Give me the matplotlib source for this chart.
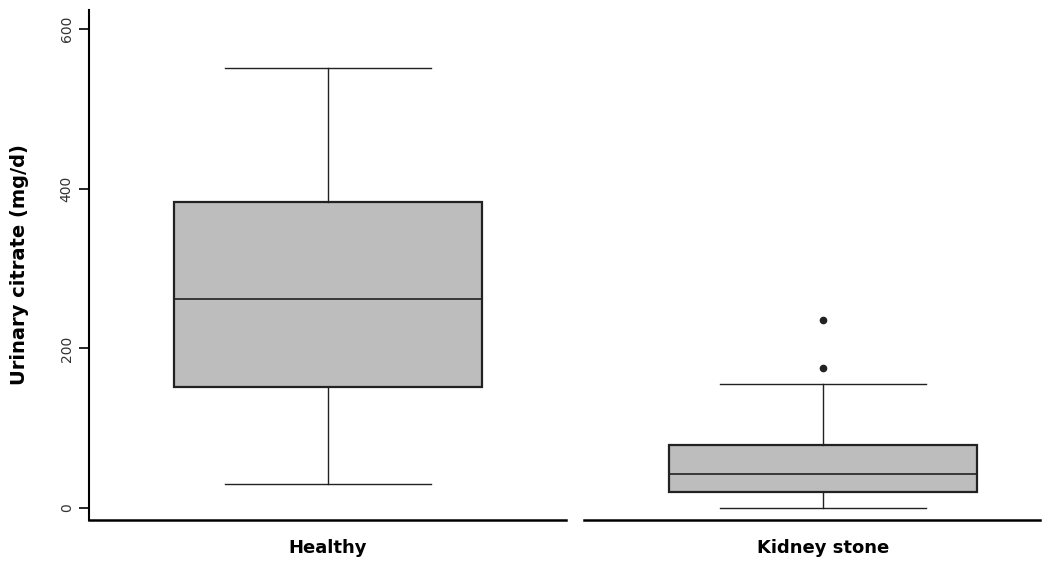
import numpy as np
import matplotlib.pyplot as plt

groups = ["Healthy", "Kidney stone"]
whislo = [30, 0]
q1 = [152, 20]
med = [262, 43]
q3 = [383, 79]
whishi = [551, 155]
fliers = [[], [175, 235]]

stats = []
for i in range(len(groups)):
    stats.append(dict(label=groups[i], whislo=whislo[i], q1=q1[i], med=med[i],
                      q3=q3[i], whishi=whishi[i], fliers=fliers[i]))

fig = plt.figure(figsize=(10.53, 5.73), dpi=100)
ax = fig.add_axes([0.0845, 0.0925, 0.9032, 0.89])

pos = [1, 2]
ax.bxp(stats, positions=pos, widths=0.622, capwidths=0.416, patch_artist=True,
       boxprops=dict(facecolor="#bdbdbd", edgecolor="#222222", linewidth=1.6),
       medianprops=dict(color="#222222", linewidth=1.2),
       whiskerprops=dict(color="#222222", linewidth=1.0),
       capprops=dict(color="#222222", linewidth=1.0),
       flierprops=dict(marker="o", markerfacecolor="#222222", markeredgecolor="#222222",
                       markersize=4.5))

ax.set_xlim(0.517, 2.438)
ax.set_ylim(-15, 624)
ax.set_yticks([0, 200, 400, 600])
ax.set_yticklabels(["0", "200", "400", "600"], rotation=90, va="center",
                   fontsize=10, color="#333333")
ax.tick_params(axis="y", direction="out", length=7, width=1.2, pad=4)
ax.set_xticks(pos)
ax.set_xticklabels(groups, fontsize=13, fontweight="bold")
ax.tick_params(axis="x", length=0, pad=14)
ax.set_ylabel("Urinary citrate (mg/d)", fontsize=14, fontweight="bold", labelpad=22)

for s in ["top", "right", "bottom"]:
    ax.spines[s].set_visible(False)
ax.spines["left"].set_linewidth(1.5)

# broken x axis line
ax.plot([0, 0.502], [0, 0], transform=ax.transAxes, color="black", lw=1.8, clip_on=False)
ax.plot([0.52, 1], [0, 0], transform=ax.transAxes, color="black", lw=1.8, clip_on=False)

plt.savefig("out.png", dpi=100)
